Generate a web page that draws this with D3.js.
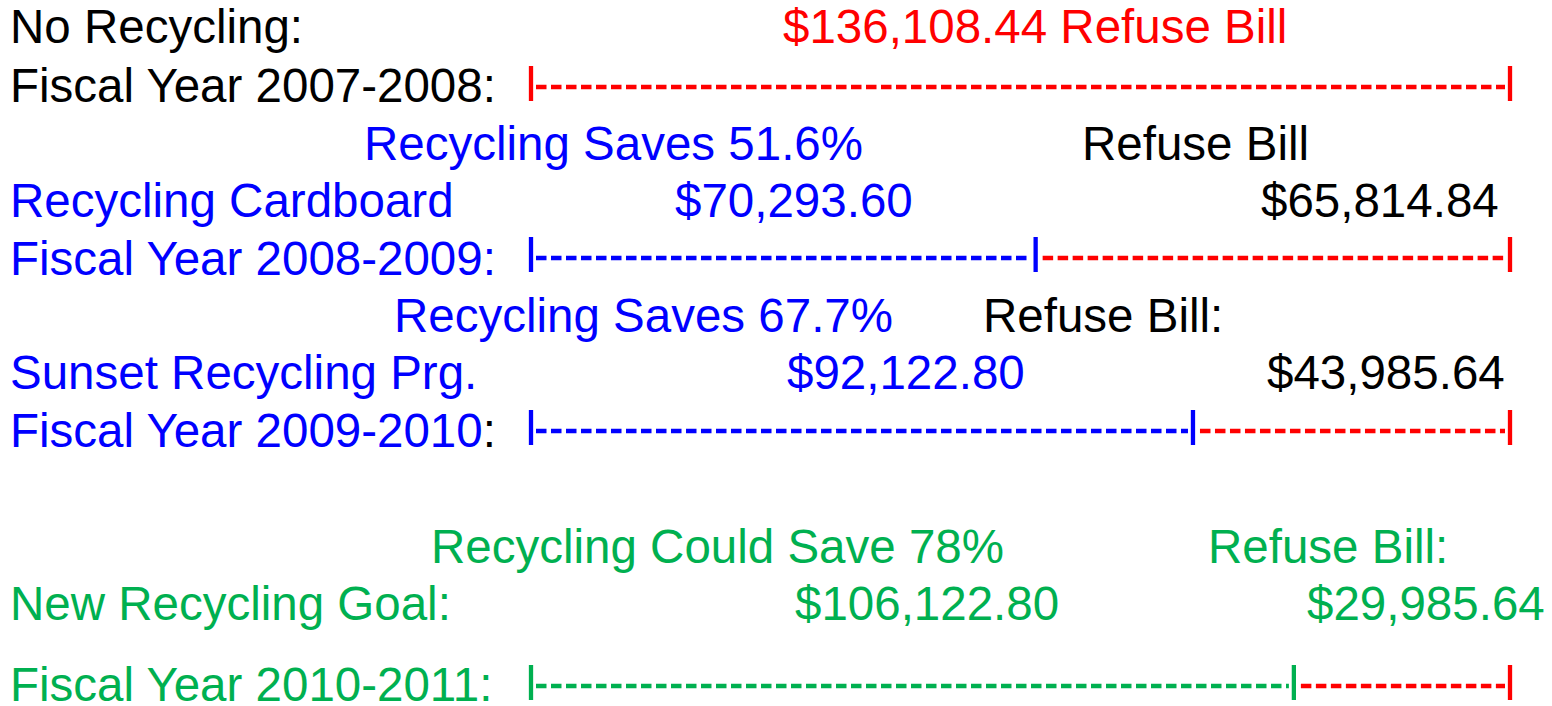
<!DOCTYPE html>
<html>
<head>
<meta charset="utf-8">
<script src="https://cdn.jsdelivr.net/npm/d3@7"></script>
<style>
  body { margin: 0; background: #fff; }
  svg text { font-family: "Liberation Sans", Arial, sans-serif; font-size: 47.5px; }
</style>
</head>
<body>
<div id="chart"></div>
<script>
// data
var years = ["2007-2008", "2008-2009", "2009-2010", "2010-2011"];
var programs = ["No Recycling:", "Recycling Cardboard", "Sunset Recycling Prg.", "New Recycling Goal:"];
var recycling = [0, 70293.60, 92122.80, 106122.80];
var refuse = [136108.44, 65814.84, 43985.64, 29985.64];
var saveLabels = [null, "Recycling Saves 51.6%", "Recycling Saves 67.7%", "Recycling Could Save 78%"];
var refuseLabels = ["Refuse Bill", "Refuse Bill", "Refuse Bill:", "Refuse Bill:"];

var red = "#ff0000", blue = "#0000ff", green = "#00b050";
var rowColor = ["#000", blue, blue, green];
var recColor = [red, blue, blue, green];

var W = 1552, H = 706;
var svg = d3.select("#chart").append("svg")
    .attr("width", W)
    .attr("height", H);

var total = 136108.44;
var x = d3.scaleLinear().domain([0, total]).range([529, 1510]);

// layout (baselines of text lines, bar centres)
var labelY = [null, 160, 332, 563],
    amountY = [43, 217, 389, 620],
    barY = [87, 258, 431, 686],
    yearY = [102, 275, 447, 701];
var saveX = [null, 364, 394, 431],
    refLabelX = [null, 1082, 983, 1208],
    recAmtX = [null, 675, 787, 795],
    refAmtX = [null, 1261, 1267, 1307];

var fmt = function(v) { return "$" + d3.format(",.2f")(v); };

years.forEach(function(yr, i) {
    var g = svg.append("g").attr("class", "row");

    // program name
    g.append("text").attr("x", 10).attr("y", amountY[i])
        .attr("fill", rowColor[i])
        .text(programs[i]);

    if (i == 0) {
        g.append("text").attr("x", 783).attr("y", amountY[i])
            .attr("fill", red)
            .text(fmt(refuse[i]) + " " + refuseLabels[i]);
    } else {
        g.append("text").attr("x", saveX[i]).attr("y", labelY[i])
            .attr("fill", rowColor[i]).text(saveLabels[i]);
        g.append("text").attr("x", refLabelX[i]).attr("y", labelY[i])
            .attr("fill", i == 3 ? green : "#000").text(refuseLabels[i]);
        g.append("text").attr("x", recAmtX[i]).attr("y", amountY[i])
            .attr("fill", rowColor[i]).text(fmt(recycling[i]));
        g.append("text").attr("x", refAmtX[i]).attr("y", amountY[i])
            .attr("fill", i == 3 ? green : "#000").text(fmt(refuse[i]));
    }

    // fiscal year label
    var t = g.append("text").attr("x", 10).attr("y", yearY[i]).attr("fill", rowColor[i]);
    t.append("tspan").text("Fiscal Year " + yr);
    t.append("tspan").attr("fill", i == 2 ? "#000" : rowColor[i]).text(":");

    // bar: recycling segment then refuse segment
    var segs = [];
    if (recycling[i] > 0) segs.push({a: 0, b: recycling[i], c: recColor[i]});
    segs.push({a: recycling[i], b: recycling[i] + refuse[i], c: red});

    var cy = barY[i];
    segs.forEach(function(s, k) {
        g.append("line")
            .attr("x1", x(s.a) + 7).attr("x2", x(s.b) - 5)
            .attr("y1", cy).attr("y2", cy)
            .attr("stroke", s.c)
            .attr("stroke-width", 4.3)
            .attr("stroke-dasharray", "10.5,4.5");
        if (k == 0) {
            g.append("line")
                .attr("x1", x(s.a) + 2).attr("x2", x(s.a) + 2)
                .attr("y1", cy - 21).attr("y2", cy + 14)
                .attr("stroke", s.c).attr("stroke-width", 4.3);
        }
        g.append("line")
            .attr("x1", x(s.b)).attr("x2", x(s.b))
            .attr("y1", cy - 21).attr("y2", cy + 14)
            .attr("stroke", s.c).attr("stroke-width", 4.3);
    });
});
</script>
</body>
</html>
